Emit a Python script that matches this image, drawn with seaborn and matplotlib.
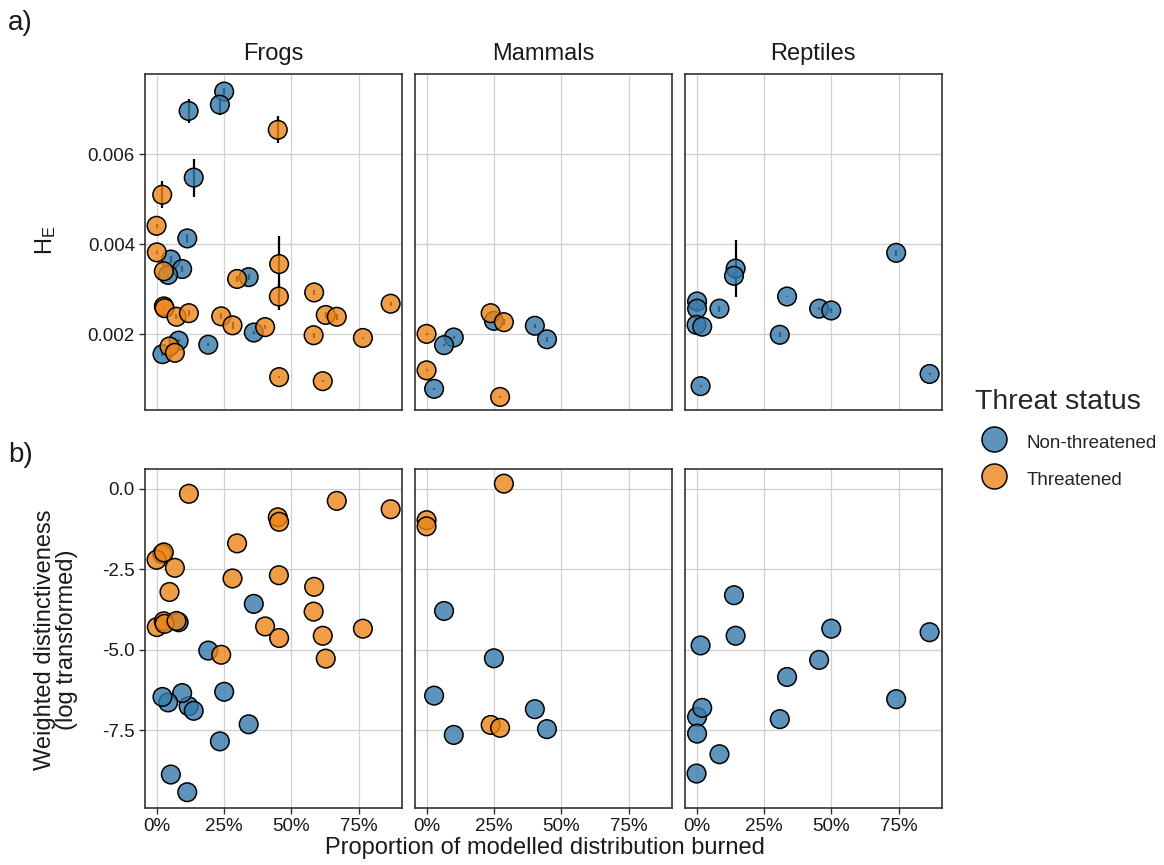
import pandas as pd
import seaborn as sns
import matplotlib.pyplot as plt
from matplotlib.lines import Line2D
from matplotlib.ticker import PercentFormatter, FormatStrFormatter

# Species data per taxon: proportion burned, threat status, H_E (+ s.e.) and
# log weighted distinctiveness
taxa = ["Frogs", "Mammals", "Reptiles"]
status_levels = ["Non-threatened", "Threatened"]

frogs_burned = [0.251, 0.235, 0.119, 0.138, 0.114, 0.053, 0.095, 0.043, 0.342, 0.361, 0.192, 0.082, 0.022,
                0.450, 0.021, 0.000, 0.001, 0.027, 0.027, 0.030, 0.048, 0.068, 0.074, 0.120, 0.240, 0.282,
                0.299, 0.403, 0.455, 0.454, 0.455, 0.585, 0.583, 0.617, 0.628, 0.669, 0.766, 0.869]
frogs_status = ["Non-threatened"] * 13 + ["Threatened"] * 25
frogs_he = [0.00739, 0.00710, 0.00696, 0.00548, 0.00413, 0.00366, 0.00345, 0.00332, 0.00327, 0.00204, 0.00177,
            0.00186, 0.00156,
            0.00654, 0.00510, 0.00441, 0.00382, 0.00340, 0.00262, 0.00258, 0.00173, 0.00159, 0.00239, 0.00247,
            0.00240, 0.00220, 0.00323, 0.00216, 0.00356, 0.00284, 0.00105, 0.00293, 0.00198, 0.00096, 0.00243,
            0.00239, 0.00192, 0.00268]
frogs_he_se = [0.00007, 0.00022, 0.00027, 0.00042, 0.00010, 0.00008, 0.00006, 0.00004, 0.00007, 0.00003, 0.00004,
               0.00004, 0.00003,
               0.00030, 0.00030, 0.00004, 0.00004, 0.00003, 0.00003, 0.00003, 0.00003, 0.00003, 0.00006, 0.00006,
               0.00007, 0.00008, 0.00006, 0.00005, 0.00062, 0.00030, 0.00002, 0.00005, 0.00006, 0.00002, 0.00007,
               0.00007, 0.00003, 0.00004]
frogs_ed = [-6.31, -7.85, -6.76, -6.90, -9.43, -8.88, -6.35, -6.64, -7.32, -3.58, -5.03, -4.15, -6.47,
            -0.89, -2.03, -2.21, -4.30, -4.12, -1.98, -4.20, -3.21, -2.46, -4.11, -0.16, -5.16, -2.79,
            -1.70, -4.28, -1.03, -2.69, -4.64, -3.05, -3.82, -4.57, -5.28, -0.38, -4.35, -0.64]

mammals_burned = [0.250, 0.402, 0.447, 0.101, 0.065, 0.028, 0.238, 0.287, 0.000, 0.000, 0.273]
mammals_status = ["Non-threatened"] * 6 + ["Threatened"] * 5
mammals_he = [0.00230, 0.00219, 0.00189, 0.00193, 0.00176, 0.00079, 0.00247, 0.00227, 0.00201, 0.00120, 0.00061]
mammals_he_se = [0.00003, 0.00005, 0.00006, 0.00004, 0.00002, 0.00002, 0.00004, 0.00006, 0.00002, 0.00002, 0.00002]
mammals_ed = [-5.27, -6.85, -7.47, -7.65, -3.80, -6.43, -7.34, 0.155, -0.98, -1.17, -7.43]

reptiles_burned = [0.145, 0.139, 0.741, 0.002, 0.002, 0.085, 0.336, 0.455, 0.500, 0.000, 0.021, 0.309, 0.015, 0.865]
reptiles_status = ["Non-threatened"] * 14
reptiles_he = [0.00346, 0.00330, 0.00381, 0.00273, 0.00257, 0.00257, 0.00284, 0.00257, 0.00253, 0.00221, 0.00217,
               0.00199, 0.00085, 0.00112]
reptiles_he_se = [0.00064, 0.00008, 0.00006, 0.00003, 0.00003, 0.00007, 0.00002, 0.00003, 0.00006, 0.00002,
                  0.00002, 0.00006, 0.00002, 0.00002]
reptiles_ed = [-4.57, -3.31, -6.54, -7.09, -7.61, -8.25, -5.85, -5.32, -4.35, -8.85, -6.81, -7.16, -4.87, -4.46]

he_ticks = [0.002, 0.004, 0.006]
ed_ticks = [0.0, -2.5, -5.0, -7.5]
x_ticks = [0, 0.25, 0.5, 0.75]

palette = {"Non-threatened": (0.21, 0.48, 0.67, 0.8),
           "Threatened": (0.93, 0.52, 0.10, 0.8)}


def taxon_frame(name, burned, status, he, he_se, ed):
    return pd.DataFrame({"taxon": name, "burned": burned, "status": status,
                         "he": he, "he_se": he_se, "ed": ed})


df = pd.concat([
    taxon_frame("Frogs", frogs_burned, frogs_status, frogs_he, frogs_he_se, frogs_ed),
    taxon_frame("Mammals", mammals_burned, mammals_status, mammals_he, mammals_he_se, mammals_ed),
    taxon_frame("Reptiles", reptiles_burned, reptiles_status, reptiles_he, reptiles_he_se, reptiles_ed),
], ignore_index=True)

sns.set_theme(style="ticks")
plt.rcParams["font.family"] = ["Liberation Sans", "DejaVu Sans"]
plt.rcParams["axes.unicode_minus"] = False

W, H = 1164, 865
fig = plt.figure(figsize=(W / 100, H / 100), dpi=100)

lefts = [144.7, 414.7, 684.7]
panel_w = 257
rows = [(74, 336), (469, 339)]  # top pixel, height


def add_px_axes(left, top, w, h):
    return fig.add_axes([left / W, 1 - (top + h) / H, w / W, h / H])


for r, (top, h) in enumerate(rows):
    for c, taxon in enumerate(taxa):
        ax = add_px_axes(lefts[c], top, panel_w, h)
        sub = df[df["taxon"] == taxon]
        if r == 0:
            ax.errorbar(sub["burned"], sub["he"], yerr=sub["he_se"], fmt="none",
                        ecolor="black", elinewidth=1.6, capsize=0, zorder=2)
            yvar = "he"
        else:
            yvar = "ed"
        sns.scatterplot(data=sub, x="burned", y=yvar, hue="status", hue_order=status_levels,
                        palette=palette, s=180, edgecolor="black", linewidth=1.1,
                        legend=False, ax=ax, zorder=3)
        ax.set_xlabel("")
        ax.set_ylabel("")
        ax.set_xlim(-0.044, 0.91)
        ax.set_xticks(x_ticks)
        ax.xaxis.set_major_formatter(PercentFormatter(1.0, decimals=0))
        if r == 0:
            ax.set_ylim(0.00032, 0.00778)
            ax.set_yticks(he_ticks)
            ax.yaxis.set_major_formatter(FormatStrFormatter("%.3f"))
            ax.text(0.5, 1 + 20 / h, taxon, transform=ax.transAxes, ha="center", va="center",
                    fontsize=17, color="#1a1a1a")
        else:
            ax.set_ylim(-9.92, 0.61)
            ax.set_yticks(ed_ticks)
            ax.yaxis.set_major_formatter(FormatStrFormatter("%.1f"))
        ax.grid(True, color="#d0d0d0", linewidth=0.9)
        ax.set_axisbelow(True)
        for sp in ax.spines.values():
            sp.set_visible(True)
            sp.set_color("#333333")
            sp.set_linewidth(1.2)
        ax.tick_params(length=4, width=1, color="#333333", labelsize=13.5,
                       labelcolor="#1a1a1a", pad=3)
        if c > 0:
            ax.tick_params(left=False, labelleft=False)
        if r == 0:
            ax.tick_params(bottom=False, labelbottom=False)

fig.text(8 / W, 1 - 23 / H, "a)", fontsize=20, ha="left", va="center", color="#1a1a1a")
fig.text(8 / W, 1 - 455 / H, "b)", fontsize=20, ha="left", va="center", color="#1a1a1a")
fig.text(46 / W, 1 - 240 / H, r"$\mathregular{H_E}$", fontsize=17, rotation=90,
         ha="center", va="center", color="#1a1a1a")
fig.text(56 / W, 1 - 640 / H, "Weighted distinctiveness\n(log transformed)", fontsize=17,
         rotation=90, ha="center", va="center", multialignment="center", linespacing=1.05,
         color="#1a1a1a")
fig.text(545 / W, 1 - 848 / H, "Proportion of modelled distribution burned", fontsize=17,
         ha="center", va="center", color="#1a1a1a")

handles = [Line2D([], [], marker="o", linestyle="", markersize=18,
                  markerfacecolor=palette[k], markeredgecolor="black", markeredgewidth=1.1)
           for k in status_levels]
leg = fig.legend(handles, status_levels, title="Threat status", loc="upper left",
                 bbox_to_anchor=(975 / W, 1 - 389 / H), frameon=False, fontsize=13.5,
                 title_fontsize=20.5, borderpad=0, borderaxespad=0, handletextpad=0.75,
                 handleheight=1.35, labelspacing=0.85, alignment="left")

fig.savefig("out.png", dpi=100)
